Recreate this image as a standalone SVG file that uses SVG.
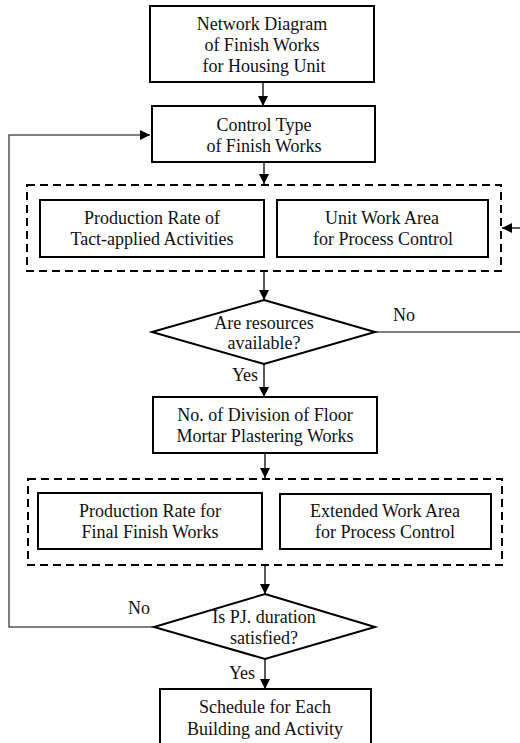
<svg xmlns="http://www.w3.org/2000/svg" width="520" height="743" viewBox="0 0 520 743">
<style>
.box{fill:#fff;stroke:#000;stroke-width:2}
.dash{fill:none;stroke:#000;stroke-width:2;stroke-dasharray:8 5}
.ln{fill:none;stroke:#222;stroke-width:1.5}
.lg{fill:none;stroke:#555;stroke-width:1.5}
text{font-family:"Liberation Serif","Times New Roman",serif;font-size:18px;fill:#111;text-anchor:middle}
</style>
<defs>
<marker id="ah" viewBox="0 0 10 10" refX="10" refY="5" markerWidth="10" markerHeight="10" markerUnits="userSpaceOnUse" orient="auto">
<path d="M0,0 L10,5 L0,10 z" fill="#000"/>
</marker>
</defs>
<rect width="520" height="743" fill="#fff"/>
<g id="connectors">
<line class="ln" x1="263" y1="82" x2="263" y2="106" marker-end="url(#ah)"/>
<line class="ln" x1="264" y1="162" x2="264" y2="184" marker-end="url(#ah)"/>
<line class="ln" x1="520" y1="228" x2="502" y2="228" marker-end="url(#ah)"/>
<line class="ln" x1="264" y1="272" x2="264" y2="300" marker-end="url(#ah)"/>
<line class="lg" x1="375" y1="332" x2="520" y2="332"/>
<line class="ln" x1="264" y1="364" x2="264" y2="397" marker-end="url(#ah)"/>
<line class="ln" x1="265" y1="453" x2="265" y2="478" marker-end="url(#ah)"/>
<line class="ln" x1="265" y1="566" x2="265" y2="594" marker-end="url(#ah)"/>
<polyline class="lg" points="154,627 9,627 9,135 150,135" marker-end="url(#ah)"/>
<line class="ln" x1="265" y1="659" x2="265" y2="689" marker-end="url(#ah)"/>
<text x="404" y="321">No</text>
<text x="245" y="381">Yes</text>
<text x="139" y="614">No</text>
<text x="242" y="679">Yes</text>
</g>
<g id="n1">
<rect class="box" x="150" y="6" width="224" height="76"/>
<text x="262" y="30">Network Diagram</text>
<text x="262" y="51">of  Finish Works</text>
<text x="264" y="72">for Housing Unit</text>
</g>
<g id="n2">
<rect class="box" x="152" y="106" width="223" height="56"/>
<text x="264" y="131">Control Type</text>
<text x="264" y="152">of Finish Works</text>
</g>
<g id="g1">
<rect class="dash" x="27" y="185" width="474" height="86"/>
</g>
<g id="n3">
<rect class="box" x="40" y="200" width="224" height="57"/>
<text x="152" y="224">Production Rate of</text>
<text x="152" y="245">Tact-applied Activities</text>
</g>
<g id="n4">
<rect class="box" x="277" y="200" width="211" height="57"/>
<text x="382" y="224">Unit Work Area</text>
<text x="383" y="245">for Process Control</text>
</g>
<g id="d1">
<polygon class="box" points="264,300 375,332 264,364 152,332"/>
<text x="264" y="329">Are resources</text>
<text x="264" y="349">available?</text>
</g>
<g id="n5">
<rect class="box" x="153" y="397" width="224" height="56"/>
<text x="265" y="421">No. of Division of Floor</text>
<text x="265" y="442">Mortar Plastering Works</text>
</g>
<g id="g2">
<rect class="dash" x="28" y="479" width="474" height="86"/>
</g>
<g id="n6">
<rect class="box" x="38" y="493" width="224" height="56"/>
<text x="150" y="517">Production Rate for</text>
<text x="150" y="538">Final Finish Works</text>
</g>
<g id="n7">
<rect class="box" x="280" y="494" width="211" height="55"/>
<text x="385" y="517">Extended Work Area</text>
<text x="385" y="538">for Process Control</text>
</g>
<g id="d2">
<polygon class="box" points="265,594 375,627 265,659 154,627"/>
<text x="264" y="623">Is PJ. duration</text>
<text x="264" y="644">satisfied?</text>
</g>
<g id="n8">
<rect class="box" x="160" y="689" width="211" height="70"/>
<text x="265" y="713">Schedule for Each</text>
<text x="265" y="735">Building and Activity</text>
</g>
</svg>
